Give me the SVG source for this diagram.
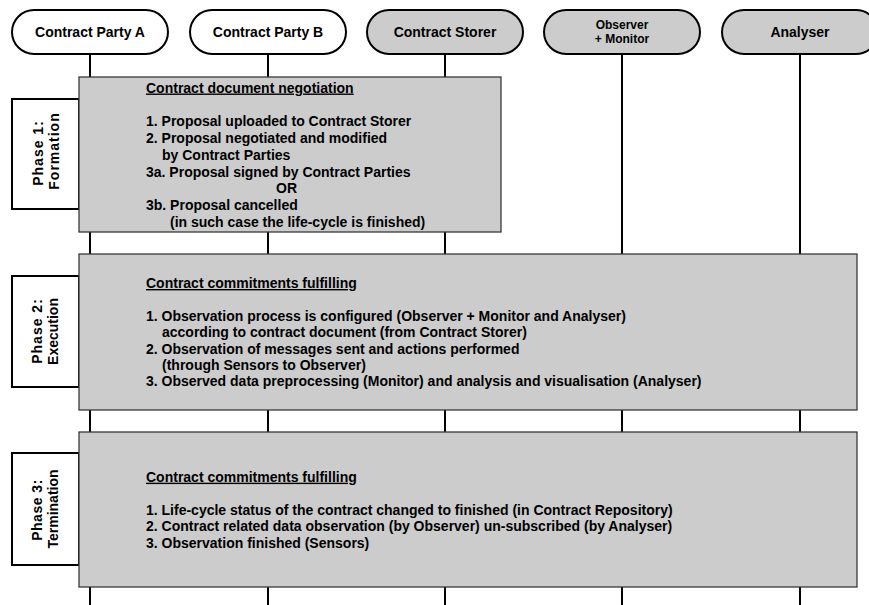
<svg xmlns="http://www.w3.org/2000/svg" width="869" height="605" viewBox="0 0 869 605">
  <style>
    text { font-family: "Liberation Sans", Arial, sans-serif; font-weight: bold; fill: #000; }
    .actor { stroke: #000; stroke-width: 2; }
    .plain { fill: #fff; }
    .shaded { fill: #cccccc; }
    .name { font-size: 14px; text-anchor: middle; }
    .name-sm { font-size: 12px; text-anchor: middle; }
    .lifeline { stroke: #000; stroke-width: 2; fill: none; }
    .phase { fill: #cccccc; stroke: #3a3a3a; stroke-width: 1.3; }
    .tab { fill: #fff; stroke: #000; stroke-width: 2; }
    .tabtext { font-size: 14px; text-anchor: middle; }
    .body { font-size: 14px; }
    .head { font-size: 14px; text-decoration: underline; }
  </style>

  <!-- lifelines run behind the phase boxes -->
  <g id="connectors">
    <line class="lifeline" x1="90" y1="54" x2="90" y2="605"/>
    <line class="lifeline" x1="268" y1="54" x2="268" y2="605"/>
    <line class="lifeline" x1="445" y1="54" x2="445" y2="605"/>
    <line class="lifeline" x1="622" y1="54" x2="622" y2="605"/>
    <line class="lifeline" x1="800" y1="54" x2="800" y2="605"/>
  </g>

  <!-- participants -->
  <g id="party-a">
    <rect class="actor plain" x="12" y="10" width="156" height="44" rx="22" ry="22"/>
    <text class="name" x="90" y="37">Contract Party A</text>
  </g>
  <g id="party-b">
    <rect class="actor plain" x="190" y="10" width="156" height="44" rx="22" ry="22"/>
    <text class="name" x="268" y="37">Contract Party B</text>
  </g>
  <g id="contract-storer">
    <rect class="actor shaded" x="367" y="10" width="156" height="44" rx="22" ry="22"/>
    <text class="name" x="445" y="37">Contract Storer</text>
  </g>
  <g id="observer-monitor">
    <rect class="actor shaded" x="544" y="10" width="156" height="44" rx="22" ry="22"/>
    <text class="name-sm" x="622" y="29">Observer</text>
    <text class="name-sm" x="622" y="43">+ Monitor</text>
  </g>
  <g id="analyser">
    <rect class="actor shaded" x="722" y="10" width="156" height="44" rx="22" ry="22"/>
    <text class="name" x="800" y="37">Analyser</text>
  </g>

  <!-- phase 1 -->
  <g id="phase-1">
    <rect class="tab" x="12" y="99" width="67" height="110"/>
    <text class="tabtext" transform="translate(42.5,153) rotate(-90)" letter-spacing="1">Phase 1:</text>
    <text class="tabtext" transform="translate(58.5,151) rotate(-90)" letter-spacing="1">Formation</text>
    <rect class="phase" x="79" y="77" width="422" height="155"/>
    <text class="head" x="146" y="92.5">Contract document negotiation</text>
    <text class="body" x="146" y="126.1">1. Proposal uploaded to Contract Storer</text>
    <text class="body" x="146" y="142.9">2. Proposal negotiated and modified</text>
    <text class="body" x="162" y="159.7">by Contract Parties</text>
    <text class="body" x="146" y="176.5">3a. Proposal signed by Contract Parties</text>
    <text class="body" x="276" y="193.3">OR</text>
    <text class="body" x="146" y="210.1">3b. Proposal cancelled</text>
    <text class="body" x="170" y="226.9">(in such case the life-cycle is finished)</text>
  </g>

  <!-- phase 2 -->
  <g id="phase-2">
    <rect class="tab" x="12" y="276" width="67" height="111"/>
    <text class="tabtext" transform="translate(42,331) rotate(-90)" letter-spacing="1">Phase 2:</text>
    <text class="tabtext" transform="translate(58,331.5) rotate(-90)">Execution</text>
    <rect class="phase" x="79" y="254" width="778" height="156"/>
    <text class="head" x="146" y="288">Contract commitments fulfilling</text>
    <text class="body" x="146" y="321">1. Observation process is configured (Observer + Monitor and Analyser)</text>
    <text class="body" x="162" y="337.3">according to contract document (from Contract Storer)</text>
    <text class="body" x="146" y="353.6">2. Observation of messages sent and actions performed</text>
    <text class="body" x="162" y="369.9">(through Sensors to Observer)</text>
    <text class="body" x="146" y="386.2">3. Observed data preprocessing (Monitor) and analysis and visualisation (Analyser)</text>
  </g>

  <!-- phase 3 -->
  <g id="phase-3">
    <rect class="tab" x="12" y="453" width="67" height="112"/>
    <text class="tabtext" transform="translate(42,510) rotate(-90)" letter-spacing="0.5">Phase 3:</text>
    <text class="tabtext" transform="translate(58,509) rotate(-90)">Termination</text>
    <rect class="phase" x="79" y="432" width="778" height="155"/>
    <text class="head" x="146" y="481.7">Contract commitments fulfilling</text>
    <text class="body" x="146" y="515">1. Life-cycle status of the contract changed to finished (in Contract Repository)</text>
    <text class="body" x="146" y="531.3">2. Contract related data observation (by Observer) un-subscribed (by Analyser)</text>
    <text class="body" x="146" y="547.6">3. Observation finished (Sensors)</text>
  </g>
</svg>
